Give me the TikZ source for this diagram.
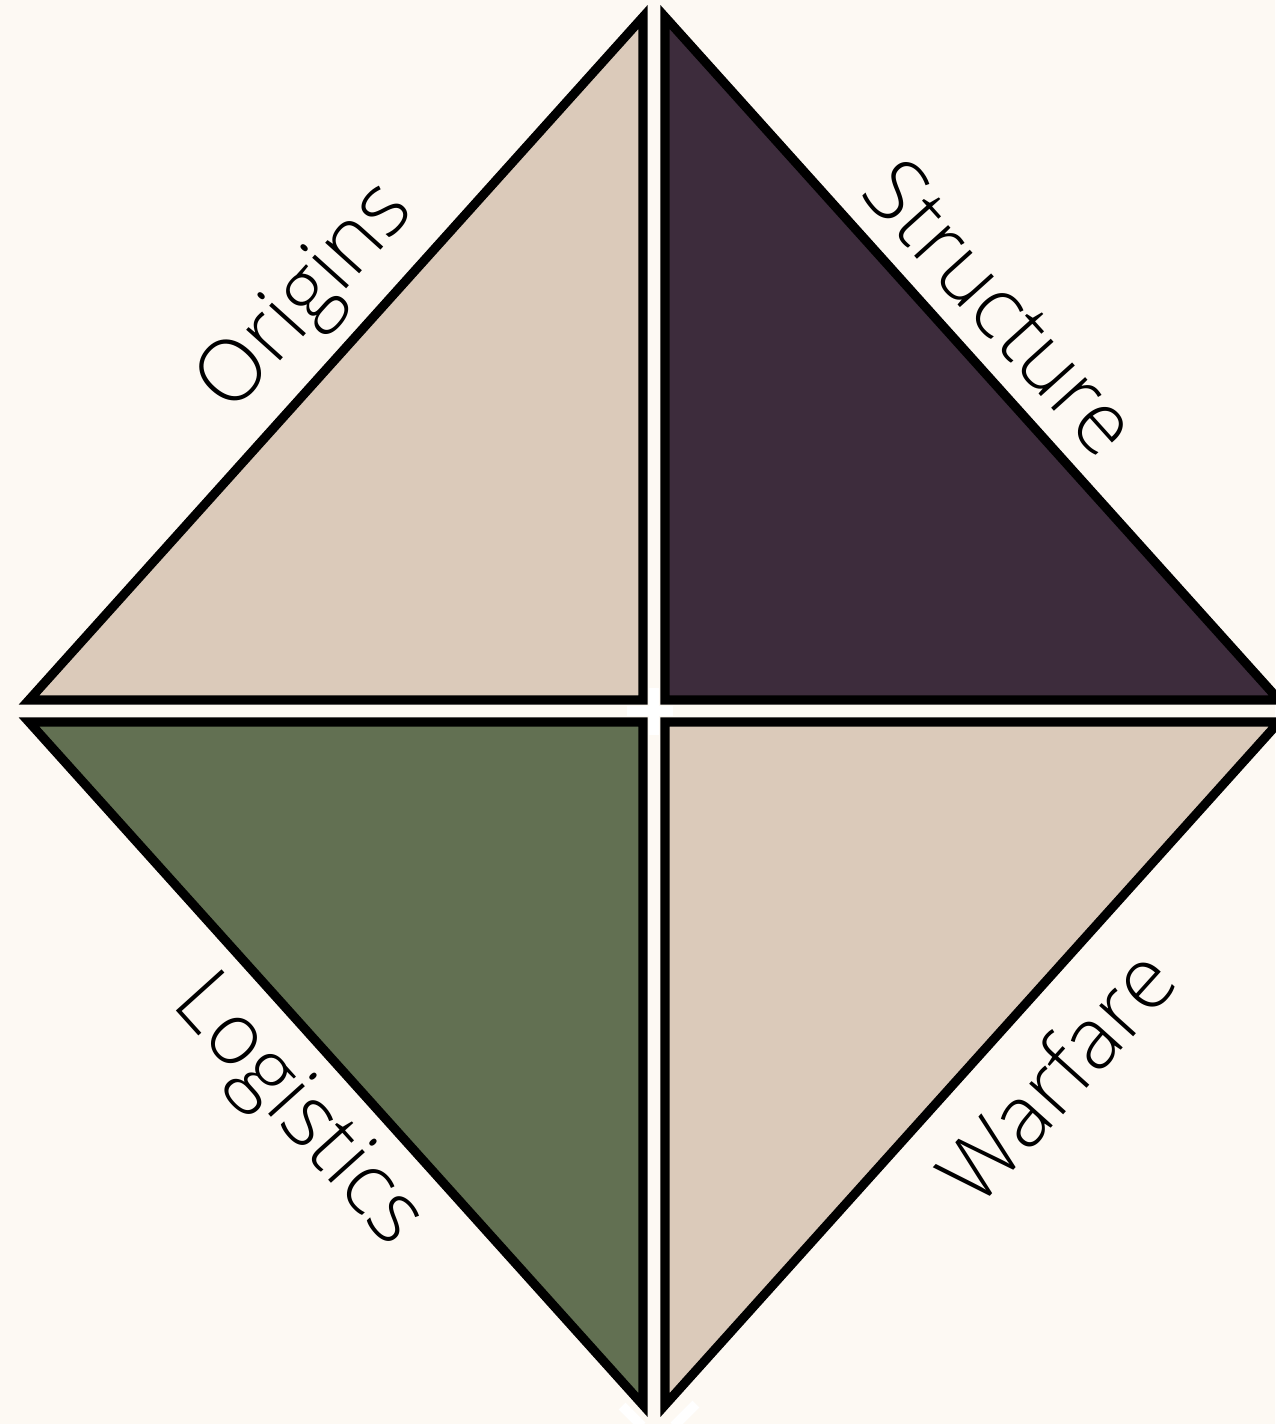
\documentclass[tikz,border=0pt]{standalone}
\usepackage{fontspec}
\setmainfont{Open Sans}[UprightFont=* Light]
\definecolor{cream}{HTML}{FDF9F3}
\definecolor{sand}{HTML}{DBCABA}
\definecolor{plum}{HTML}{3D2C3C}
\definecolor{moss}{HTML}{627052}

\begin{document}
\begin{tikzpicture}[x=0.01cm, y=-0.01cm,
    tri/.style={draw=black, line width=2.6pt, line join=miter},
    lbl/.style={font=\fontsize{24.5}{24.5}\selectfont, inner sep=0pt},
    gap/.style={draw=white, line width=2.8pt}]

  % Page
  \fill[cream] (0,0) rectangle (1275,1424);
  \useasboundingbox (0,0) rectangle (1275,1424);

  % Triangles
  \filldraw[tri, fill=sand] (643,17) coordinate (ot) -- (29,700) coordinate (ol)
    -- (643,700) coordinate (oc) -- cycle;
  \filldraw[tri, fill=plum] (665,17) coordinate (st) -- (1279,700) coordinate (sr)
    -- (665,700) coordinate (sc) -- cycle;
  \filldraw[tri, fill=moss] (643,1405) coordinate (lb) -- (29,722) coordinate (ll)
    -- (643,722) coordinate (lc) -- cycle;
  \filldraw[tri, fill=sand] (665,1405) coordinate (wb) -- (1279,722) coordinate (wr)
    -- (665,722) coordinate (wc) -- cycle;

  % White marks
  \draw[gap] (627,711) -- (673,711);
  \draw[gap] (654,688) -- (654,735);
  \draw[gap] (622,1406) -- (642,1426);
  \draw[gap] (696,1404) -- (674,1426);

  % Labels
  \node[lbl, rotate=48] (origins) at (308,300) {Origins};
  \node[lbl, rotate=-48] (structure) at (1002,307) {Structure};
  \node[lbl, rotate=-48] (logistics) at (296,1113) {Logistics};
  \node[lbl, rotate=48] (warfare) at (1055,1075) {Warfare};

\end{tikzpicture}
\end{document}
